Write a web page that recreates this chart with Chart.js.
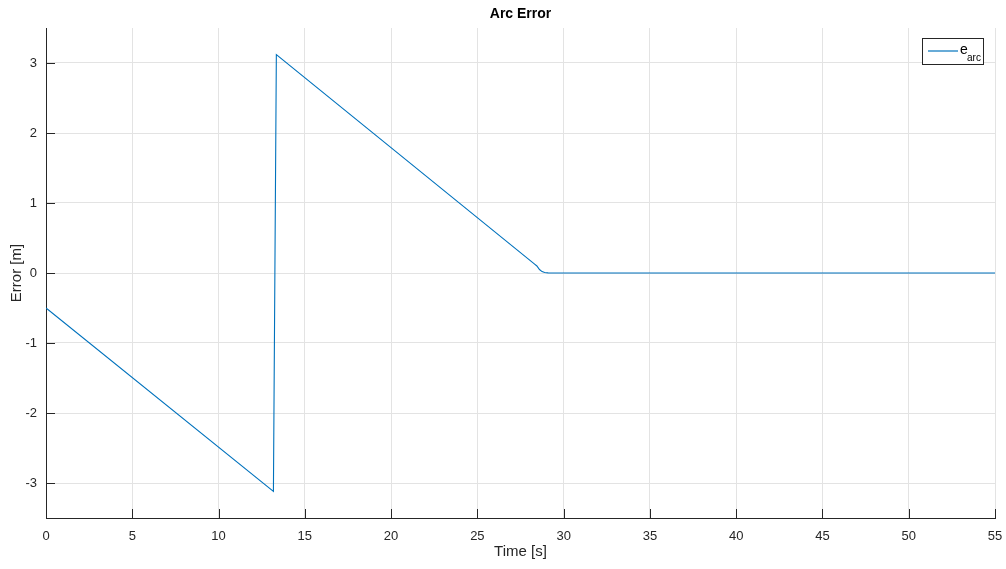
<!DOCTYPE html>
<html><head><meta charset="utf-8">
<script src="https://cdn.jsdelivr.net/npm/chart.js@4"></script>
<style>html,body{margin:0;padding:0;background:#fff;}#wrap{width:1006px;height:569px;}</style>
</head><body><div id="wrap"><canvas id="c" width="1006" height="569"></canvas></div>
<script>
const timeS  = [0, 13.18, 13.35, 28.3, 28.45, 28.6, 28.75, 28.9, 29.1, 29.4, 55];
const errorM = [-0.5, -3.12, 3.12, 0.13, 0.10, 0.05, 0.02, 0.007, 0.002, 0, 0];
const xTicks = [0,5,10,15,20,25,30,35,40,45,50,55];
const yTicks = [-3,-2,-1,0,1,2,3];
const chartTitle = 'Arc Error';
const xTitle = 'Time [s]';
const yTitle = 'Error [m]';
const seriesName = 'e';
const seriesSub = 'arc';

const FONT = '"Liberation Sans", Arial, Helvetica, sans-serif';
const AXC = '#262626';

const extras = {
  id: 'extras',
  afterDatasetsDraw(chart) {
    const ctx = chart.ctx, a = chart.chartArea;
    const xs = chart.scales.x, ys = chart.scales.y;
    ctx.save();
    ctx.strokeStyle = AXC; ctx.lineWidth = 1;
    ctx.beginPath();
    xTicks.forEach(v => { const p = Math.round(xs.getPixelForValue(v)) + 0.5; ctx.moveTo(p, a.bottom); ctx.lineTo(p, a.bottom - 9); });
    yTicks.forEach(v => { const p = Math.round(ys.getPixelForValue(v)) + 0.5; ctx.moveTo(a.left, p); ctx.lineTo(a.left + 9, p); });
    ctx.stroke();
    ctx.fillStyle = '#000';
    ctx.font = 'bold 14px ' + FONT;
    ctx.textAlign = 'center'; ctx.textBaseline = 'middle';
    ctx.fillText(chartTitle, (a.left + a.right) / 2, 14);
    ctx.fillStyle = AXC;
    ctx.font = '15px ' + FONT;
    ctx.fillText(xTitle, (a.left + a.right) / 2, 552);
    ctx.save();
    ctx.translate(17, (a.top + a.bottom) / 2);
    ctx.rotate(-Math.PI / 2);
    ctx.fillText(yTitle, 0, 0);
    ctx.restore();
    const bx = 922.5, by = 38.5, bw = 61, bh = 26;
    ctx.fillStyle = '#fff'; ctx.fillRect(bx, by, bw, bh);
    ctx.strokeStyle = AXC; ctx.lineWidth = 1; ctx.strokeRect(bx, by, bw, bh);
    ctx.strokeStyle = '#0072BD'; ctx.lineWidth = 1.2;
    ctx.beginPath(); ctx.moveTo(928, 51); ctx.lineTo(958, 51); ctx.stroke();
    ctx.fillStyle = '#000'; ctx.textAlign = 'left'; ctx.textBaseline = 'alphabetic';
    ctx.font = '14px ' + FONT; ctx.fillText(seriesName, 960, 54);
    ctx.font = '10px ' + FONT; ctx.fillText(seriesSub, 967, 61);
    ctx.restore();
  }
};

new Chart(document.getElementById('c'), {
  type: 'line',
  data: { datasets: [{ label: seriesName + seriesSub, data: timeS.map((t, i) => ({ x: t, y: errorM[i] })),
    borderColor: '#0072BD', borderWidth: 1.1, pointRadius: 0, tension: 0, fill: false }] },
  options: {
    responsive: false, animation: false, devicePixelRatio: 1,
    layout: { autoPadding: false, padding: { top: 28, right: 11, left: 0, bottom: 0 } },
    plugins: { legend: { display: false }, title: { display: false }, tooltip: { enabled: false } },
    scales: {
      x: { type: 'linear', min: 0, max: 55,
        afterBuildTicks: s => { s.ticks = xTicks.map(v => ({ value: v })); },
        afterFit: s => { s.height = 51; s.paddingLeft = 0; s.paddingRight = 0; },
        grid: { color: '#e3e3e3', drawTicks: false, lineWidth: 1 },
        border: { color: AXC, width: 1 },
        ticks: { color: AXC, font: { family: FONT, size: 13 }, padding: 11, maxRotation: 0, callback: v => String(v) },
        title: { display: false } },
      y: { type: 'linear', min: -3.5, max: 3.5,
        afterBuildTicks: s => { s.ticks = yTicks.map(v => ({ value: v })); },
        afterFit: s => { s.width = 46; s.paddingTop = 0; s.paddingBottom = 0; },
        grid: { color: '#e3e3e3', drawTicks: false, lineWidth: 1 },
        border: { color: AXC, width: 1 },
        ticks: { color: AXC, font: { family: FONT, size: 13 }, padding: 9, callback: v => String(v) },
        title: { display: false } }
    }
  },
  plugins: [extras]
});
</script></body></html>
